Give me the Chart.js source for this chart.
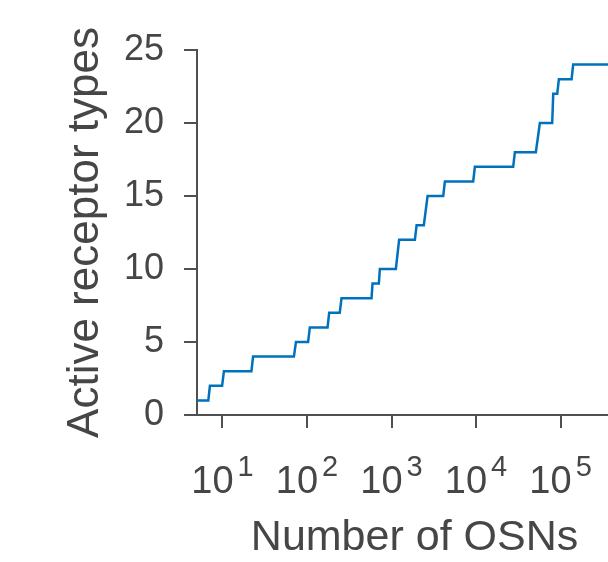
<!DOCTYPE html>
<html>
<head>
<meta charset="utf-8">
<script src="https://cdn.jsdelivr.net/npm/chart.js@4"></script>
<style>
  html, body { margin: 0; padding: 0; background: #fff; overflow: hidden; }
  #wrap { width: 632px; height: 562px; }
</style>
</head>
<body>
<div id="wrap"><canvas id="chart" width="632" height="562"></canvas></div>
<script>
// corners of the step curve (number of OSNs, active receptor types)
const osnCounts = [5, 6.8, 7.1, 9.9, 10.4, 22, 23, 70, 74, 103, 108, 175, 183, 244, 256, 580, 596, 708,
  728, 1125, 1230, 1890, 1980, 2410, 2670, 4090, 4280, 9250, 9690, 27500, 28800, 51000, 56900, 79600,
  81900, 91300, 95500, 135000, 141000, 700000]
const receptorTypes = [1, 1, 2, 2, 3, 3, 4, 4, 5, 5, 6, 6, 7, 7, 8, 8, 9, 9,
  10, 10, 12, 12, 13, 13, 15, 15, 16, 16, 17, 17, 18, 18, 20, 20,
  22, 22, 23, 23, 24, 24]
const xTickValues = [10, 100, 1000, 10000, 100000]
const xTickExponents = ['1', '2', '3', '4', '5']

const textColor = '#464646'
const axisColor = '#505050'
const fontFamily = '"Liberation Sans", Arial, Helvetica, sans-serif'

// draws "10" with a raised exponent under each decade tick
const powerLabels = {
  id: 'powerLabels',
  afterDraw(chart) {
    const ctx = chart.ctx
    const sc = chart.scales.x
    ctx.save()
    ctx.fillStyle = textColor
    ctx.textBaseline = 'alphabetic'
    ctx.textAlign = 'left'
    xTickValues.forEach((v, i) => {
      const px = sc.getPixelForValue(v)
      ctx.font = '38px ' + fontFamily
      const wBase = ctx.measureText('10').width
      ctx.font = '29px ' + fontFamily
      const wExp = ctx.measureText(xTickExponents[i]).width
      const start = px - (wBase + 4 + wExp) / 2
      ctx.font = '38px ' + fontFamily
      ctx.fillText('10', start, 493)
      ctx.font = '29px ' + fontFamily
      ctx.fillText(xTickExponents[i], start + wBase + 4, 476)
    })
    ctx.restore()
  }
}

const points = osnCounts.map((x, i) => ({ x: x, y: receptorTypes[i] }))

new Chart(document.getElementById('chart'), {
  type: 'line',
  data: {
    datasets: [{
      data: points,
      borderColor: '#0072BD',
      borderWidth: 2.5,
      pointRadius: 0,
      tension: 0,
      fill: false
    }]
  },
  options: {
    responsive: false,
    animation: false,
    layout: { padding: { top: 50, left: 0, right: 0, bottom: 0 } },
    plugins: { legend: { display: false }, tooltip: { enabled: false } },
    scales: {
      x: {
        type: 'logarithmic',
        min: 5,
        max: 700000,
        afterBuildTicks: (scale) => { scale.ticks = xTickValues.map(v => ({ value: v })) },
        ticks: { display: false },
        grid: { drawOnChartArea: false, tickLength: 13, color: axisColor, lineWidth: 2 },
        border: { color: axisColor, width: 2 },
        title: {
          display: true,
          text: 'Number of OSNs',
          color: textColor,
          font: { family: fontFamily, size: 43, lineHeight: 1 },
          padding: { top: 89, bottom: 2 }
        }
      },
      y: {
        min: 0,
        max: 25,
        ticks: {
          stepSize: 5,
          color: textColor,
          padding: 20,
          font: { family: fontFamily, size: 36 }
        },
        grid: { drawOnChartArea: false, tickLength: 13, color: axisColor, lineWidth: 2 },
        border: { color: axisColor, width: 2 },
        title: {
          display: true,
          text: 'Active receptor types',
          color: textColor,
          font: { family: fontFamily, size: 44, lineHeight: 1 },
          padding: { top: 64, bottom: -4 }
        }
      }
    }
  },
  plugins: [powerLabels]
})
</script>
</body>
</html>
